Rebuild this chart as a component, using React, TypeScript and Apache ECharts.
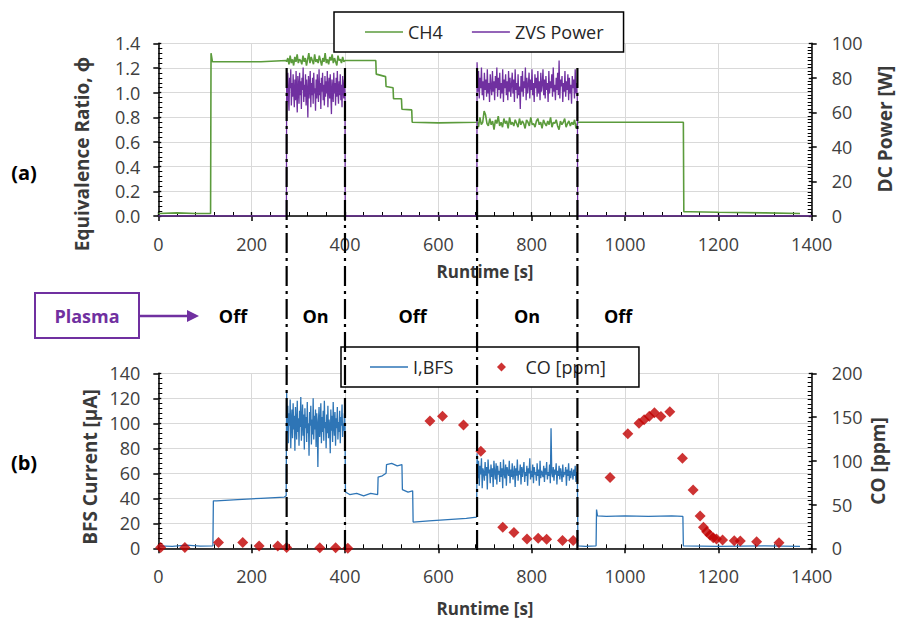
import React, { useEffect, useRef } from 'react';
import * as echarts from 'echarts';

const FONT = "'Open Sans', 'Noto Sans', 'DejaVu Sans', sans-serif";

// ---- axes ----
const runtimeMin = 0;
const runtimeMax = 1400;
const runtimeStep = 200;
const phiMax = 1.4;
const phiStep = 0.2;
const powerMax = 100;
const powerStep = 20;
const currentMax = 140;
const currentStep = 20;
const coMax = 200;
const coStep = 50;

// ---- (a) CH4 equivalence ratio ----
const ch4PreTimes = [0, 40, 80, 112, 113, 116, 160, 220, 274];
const ch4PreValues = [0.02, 0.025, 0.02, 0.02, 1.32, 1.25, 1.25, 1.25, 1.26];
const ch4On1Span = [275, 400];
const ch4On1Values = [
  1.25, 1.28, 1.23, 1.30, 1.24, 1.27, 1.22, 1.29, 1.25, 1.31,
  1.24, 1.27, 1.26, 1.23, 1.30, 1.25, 1.28, 1.22, 1.27, 1.32,
  1.24, 1.29, 1.26, 1.23, 1.31, 1.25, 1.27, 1.24, 1.30, 1.26,
  1.22, 1.28, 1.25, 1.32, 1.24, 1.27, 1.23, 1.29, 1.26, 1.31,
  1.24, 1.28, 1.25, 1.22, 1.30, 1.26, 1.27, 1.24, 1.29, 1.25, 1.26,
];
const ch4MidTimes = [401, 466, 467, 487, 488, 503, 504, 521, 522, 543, 544, 600, 682];
const ch4MidValues = [1.26, 1.26, 1.15, 1.13, 1.05, 1.04, 0.95, 0.95, 0.865, 0.86, 0.76, 0.755, 0.76];
const ch4On2Span = [683, 898];
const ch4On2Values = [
  0.78, 0.72, 0.80, 0.74, 0.76, 0.85, 0.82, 0.75, 0.73, 0.79,
  0.74, 0.77, 0.70, 0.78, 0.75, 0.81, 0.73, 0.76, 0.72, 0.79,
  0.75, 0.77, 0.71, 0.80, 0.74, 0.76, 0.73, 0.78, 0.75, 0.72,
  0.79, 0.74, 0.77, 0.75, 0.71, 0.78, 0.76, 0.73, 0.80, 0.74,
  0.75, 0.72, 0.77, 0.79, 0.74, 0.76, 0.71, 0.78, 0.75, 0.73,
  0.77, 0.74, 0.80, 0.72, 0.76, 0.75, 0.78, 0.73, 0.70, 0.77,
  0.74, 0.76, 0.79, 0.72, 0.75, 0.77, 0.73, 0.76, 0.74, 0.78,
  0.71, 0.75,
];
const ch4PostTimes = [899, 1000, 1125, 1126, 1140, 1200, 1300, 1375];
const ch4PostValues = [0.76, 0.76, 0.76, 0.035, 0.035, 0.03, 0.025, 0.02];

// ---- (a) ZVS power [W] ----
const zvsOffTimes = [0, 274.5, 400.5, 682.5, 898.5, 1400];
const zvsOffValue = 0;
const zvsOn1Span = [275, 400];
const zvsOn1Values = [
  78, 66, 83, 70, 61, 80, 74, 85, 64, 77,
  69, 82, 72, 63, 79, 67, 84, 71, 60, 81,
  75, 65, 83, 70, 78, 62, 80, 73, 86, 66,
  76, 69, 82, 64, 79, 72, 57, 81, 68, 75,
  84, 63, 77, 70, 80, 65, 83, 71, 74, 61,
  79, 68, 82, 73, 66, 85, 70, 77, 62, 80,
  72, 83, 67, 76, 64, 81, 69, 78, 71, 84,
  63, 75, 80, 68, 82, 70, 59, 79, 73, 66,
  83, 71, 77, 64, 80, 69, 84, 72, 65, 78,
  70, 82, 67, 76, 63, 81, 74, 68, 79, 72,
];
const zvsOn2Span = [683, 898];
const zvsOn2Values = [
  89, 72, 84, 68, 80, 74, 86, 70, 78, 67,
  83, 73, 79, 69, 85, 71, 77, 66, 82, 75,
  70, 84, 72, 78, 67, 81, 74, 86, 69, 80,
  73, 83, 68, 77, 71, 85, 66, 79, 74, 82,
  70, 78, 67, 84, 72, 80, 69, 76, 83, 71,
  79, 66, 85, 73, 77, 68, 82, 70, 75, 62,
  81, 72, 84, 69, 78, 74, 86, 67, 80, 71,
  76, 83, 68, 79, 73, 85, 70, 77, 66, 82,
  74, 80, 69, 84, 71, 78, 67, 83, 72, 76,
  85, 70, 79, 68, 81, 73, 77, 66, 84, 71,
  78, 74, 82, 69, 86, 72, 76, 67, 80, 73,
  83, 70, 90, 68, 79, 75, 81, 66, 77, 72,
  84, 69, 78, 73, 82, 67, 80, 71, 76, 65,
  81, 74, 79, 68, 85, 71, 77, 66,
];

// ---- (b) BFS current [uA] ----
const ibfsPreTimes = [0, 30, 60, 90, 117, 118, 125, 170, 220, 270, 274];
const ibfsPreValues = [2, 1.5, 2.5, 1.8, 2, 38, 38, 39, 40, 41, 42];
const ibfsOn1Span = [275, 400];
const ibfsOn1Values = [
  125, 92, 114, 84, 108, 98, 119, 80, 102, 111,
  88, 116, 95, 106, 78, 113, 99, 87, 118, 93,
  104, 82, 110, 97, 121, 86, 101, 115, 90, 107,
  79, 112, 96, 105, 85, 117, 92, 100, 74, 109,
  98, 114, 83, 103, 91, 120, 87, 106, 95, 111,
  81, 108, 99, 65, 102, 113, 89, 97, 116, 84,
  105, 93, 110, 86, 118, 96, 101, 80, 107, 92,
  114, 88, 103, 97, 76, 111, 94, 106, 85, 117,
  99, 90, 109, 82, 104, 96, 113, 87, 101, 93,
  110, 84, 105, 98, 115, 89, 100, 94, 108, 97,
];
const ibfsMidTimes = [401, 410, 425, 440, 455, 470, 471, 480, 488, 489, 500, 512, 522, 523, 535, 545, 546, 580, 620, 660, 682];
const ibfsMidValues = [45, 43, 44, 42, 44, 43, 57, 58, 60, 67, 68, 66, 67, 47, 45, 46, 21, 22, 23, 24, 25];
const ibfsOn2Span = [683, 898];
const ibfsOn2Values = [
  76, 56, 70, 50, 66, 59, 72, 48, 64, 61,
  54, 69, 58, 65, 47, 71, 60, 63, 52, 67,
  57, 64, 49, 70, 61, 55, 68, 51, 66, 59,
  62, 53, 69, 57, 64, 48, 71, 60, 56, 67,
  50, 65, 61, 58, 70, 52, 63, 57, 68, 55,
  60, 66, 49, 64, 58, 71, 54, 62, 59, 67,
  51, 65, 57, 63, 69, 53, 61, 58, 66, 50,
  64, 60, 72, 55, 62, 57, 67, 52, 65, 59,
  61, 54, 68, 58, 63, 50, 70, 56, 62, 60,
  57, 66, 53, 64, 59, 69, 55, 61, 58, 67,
  52, 96, 60, 57, 65, 54, 63, 59, 68, 51,
  62, 58, 66, 55, 64, 60, 53, 67, 57, 61,
  59, 65, 50, 63, 58, 68, 54, 62, 56, 64,
  60, 55, 63, 58, 66, 53, 61, 57,
];
const ibfsPostTimes = [899, 915, 938, 939, 941, 960, 1000, 1050, 1100, 1124, 1125, 1200, 1300, 1375];
const ibfsPostValues = [2, 1.5, 2, 31, 26, 25.5, 26, 25.5, 26, 25.5, 2, 1.5, 2, 1.5];

// ---- (b) CO [ppm] ----
const coTimes = [5, 57, 129, 181, 216, 256, 275, 346, 380, 406, 582, 609, 654, 691, 738, 762, 790, 814, 832, 866, 889, 968, 1006, 1030, 1041, 1052, 1063, 1077, 1096, 1123, 1146, 1161, 1168, 1175, 1182, 1189, 1196, 1209, 1234, 1247, 1282, 1330];
const coValues = [1, 1, 6.5, 6.5, 2.7, 2.7, 1, 0.5, 0.5, 0, 145.5, 151, 141, 111, 24, 18, 10.7, 11.4, 10.3, 8.8, 8.8, 80.8, 131, 143, 147, 151, 155, 150.5, 156, 103, 66.6, 37, 24, 19, 15.2, 12.1, 10.6, 9.5, 8.7, 8.3, 7.5, 6.4];

// ---- plasma annotation ----
const plasmaSwitchTimes = [275, 400, 683, 898];
const plasmaLabels = ['Off', 'On', 'Off', 'On', 'Off'];
const plasmaLabelTimes = [160, 337, 545, 790, 985];

const zip = (t: number[], v: number[]) => t.map((x, i) => [x, v[i]]);
const spread = (span: number[], v: number[]) =>
  v.map((y, i) => [span[0] + ((span[1] - span[0]) * i) / (v.length - 1), y]);

const ch4Data = [
  ...zip(ch4PreTimes, ch4PreValues),
  ...spread(ch4On1Span, ch4On1Values),
  ...zip(ch4MidTimes, ch4MidValues),
  ...spread(ch4On2Span, ch4On2Values),
  ...zip(ch4PostTimes, ch4PostValues),
];
const zvsData = [
  [zvsOffTimes[0], zvsOffValue],
  [zvsOffTimes[1], zvsOffValue],
  ...spread(zvsOn1Span, zvsOn1Values),
  [zvsOffTimes[2], zvsOffValue],
  [zvsOffTimes[3], zvsOffValue],
  ...spread(zvsOn2Span, zvsOn2Values),
  [zvsOffTimes[4], zvsOffValue],
  [zvsOffTimes[5], zvsOffValue],
];
const ibfsData = [
  ...zip(ibfsPreTimes, ibfsPreValues),
  ...spread(ibfsOn1Span, ibfsOn1Values),
  ...zip(ibfsMidTimes, ibfsMidValues),
  ...spread(ibfsOn2Span, ibfsOn2Values),
  ...zip(ibfsPostTimes, ibfsPostValues),
];
const coData = zip(coTimes, coValues);

const LABEL_COLOR = '#404040';
const TITLE_COLOR = '#3a3a3a';
const LINE_ICON = 'path://M0 0H38V1.6H0Z';
const DIAMOND_ICON = 'path://M0 5L0.01 5ZM38 5L37.99 5ZM19 0.5L23.5 5L19 9.5L14.5 5Z';

function xMain(gridIndex: number) {
  return {
    type: 'value', gridIndex, position: 'bottom',
    min: runtimeMin, max: runtimeMax, interval: runtimeStep,
    axisLine: { show: true, onZero: false, lineStyle: { color: '#000', width: 1.5 } },
    axisTick: { show: true, inside: false, length: 5, lineStyle: { color: '#000', width: 1.5 } },
    minorTick: { show: false },
    axisLabel: { margin: 19, fontSize: 18, color: LABEL_COLOR, fontFamily: FONT, formatter: (v: number) => String(v) },
    splitLine: { show: true, lineStyle: { color: '#d9d9d9', width: 1 } },
  };
}
function xOverlay(gridIndex: number) {
  return {
    type: 'value', gridIndex, position: 'bottom',
    min: runtimeMin, max: runtimeMax, interval: runtimeStep,
    axisLine: { show: false, onZero: false },
    axisTick: { show: true, inside: true, length: 4, lineStyle: { color: '#000', width: 1.3 } },
    minorTick: { show: true, splitNumber: 5, length: 4, lineStyle: { color: '#000', width: 1 } },
    axisLabel: { show: false },
    splitLine: { show: false },
  };
}
function yMain(gridIndex: number, position: string, max: number, interval: number, split: boolean, fmt?: (v: number) => string) {
  return {
    type: 'value', gridIndex, position, min: 0, max, interval,
    axisLine: { show: true, onZero: false, lineStyle: { color: '#000', width: 1.5 } },
    axisTick: { show: true, inside: false, length: 5, lineStyle: { color: '#000', width: 1.5 } },
    minorTick: { show: false },
    axisLabel: { margin: position === 'left' ? 18 : 20, fontSize: 18, color: LABEL_COLOR, fontFamily: FONT, formatter: fmt || ((v: number) => String(v)) },
    splitLine: { show: split, lineStyle: { color: '#d9d9d9', width: 1 } },
  };
}
function yOverlay(gridIndex: number, position: string, max: number, interval: number, minorSplit: number) {
  return {
    type: 'value', gridIndex, position, min: 0, max, interval,
    axisLine: { show: false, onZero: false },
    axisTick: { show: true, inside: true, length: 3, lineStyle: { color: '#000', width: 1.3 } },
    minorTick: { show: true, splitNumber: minorSplit, length: 4, lineStyle: { color: '#000', width: 1 } },
    axisLabel: { show: false },
    splitLine: { show: false },
  };
}

export default function App() {
  const ref = useRef<HTMLDivElement>(null);
  useEffect(() => {
    if (!ref.current) return;
    const chart = echarts.init(ref.current, null, { renderer: 'svg' });
    const legendCommon = {
      orient: 'horizontal', itemWidth: 38, itemHeight: 10, itemGap: 29,
      borderColor: '#000', borderWidth: 1.5, backgroundColor: '#fff',
      textStyle: { fontSize: 18, color: '#262626', fontFamily: FONT },
      selectedMode: false, z: 10,
    };
    chart.setOption({
      animation: false,
      backgroundColor: '#fff',
      textStyle: { fontFamily: FONT },
      grid: [
        { left: 158.3, top: 43.3, width: 653.4, height: 172.7, containLabel: false },
        { left: 158.3, top: 373.3, width: 653.4, height: 175, containLabel: false },
      ],
      legend: [
        {
          ...legendCommon,
          data: [{ name: 'CH4', icon: LINE_ICON }, { name: 'ZVS Power', icon: LINE_ICON }],
          left: 334, top: 12, padding: [11, 20, 11, 31],
        },
        {
          ...legendCommon,
          data: [{ name: 'I,BFS', icon: LINE_ICON }, { name: 'CO [ppm]', icon: DIAMOND_ICON }],
          left: 341, top: 347, padding: [11, 33, 11, 29],
        },
      ],
      xAxis: [xMain(0), xOverlay(0), xMain(1), xOverlay(1)],
      yAxis: [
        yMain(0, 'left', phiMax, phiStep, true, (v: number) => v.toFixed(1)),
        yOverlay(0, 'left', phiMax, phiStep, 5),
        yMain(0, 'right', powerMax, powerStep, false),
        yOverlay(0, 'right', powerMax, powerStep, 10),
        yMain(1, 'left', currentMax, currentStep, true),
        yOverlay(1, 'left', currentMax, currentStep, 5),
        yMain(1, 'right', coMax, coStep, false),
        yOverlay(1, 'right', coMax, coStep, 10),
      ],
      series: [
        {
          name: 'CH4', type: 'line', xAxisIndex: 0, yAxisIndex: 0, data: ch4Data,
          symbol: 'none', lineStyle: { color: '#5B9B3C', width: 1.6 }, itemStyle: { color: '#5B9B3C' }, z: 3,
        },
        {
          name: 'ZVS Power', type: 'line', xAxisIndex: 0, yAxisIndex: 2, data: zvsData,
          symbol: 'none', lineStyle: { color: '#7030A0', width: 1.3 }, itemStyle: { color: '#7030A0' }, z: 3,
        },
        {
          name: 'I,BFS', type: 'line', xAxisIndex: 2, yAxisIndex: 4, data: ibfsData,
          symbol: 'none', lineStyle: { color: '#2E75B6', width: 1.3 }, itemStyle: { color: '#2E75B6' }, z: 3,
        },
        {
          name: 'CO [ppm]', type: 'scatter', xAxisIndex: 2, yAxisIndex: 6, data: coData,
          symbol: 'diamond', symbolSize: 11, itemStyle: { color: '#C00000' }, z: 4,
        },
      ],
    });

    const px = (t: number) => chart.convertToPixel({ xAxisIndex: 0 }, t) as number;
    const yTop = chart.convertToPixel({ yAxisIndex: 0 }, 1.2) as number;
    const yBot = (chart.convertToPixel({ yAxisIndex: 4 }, 0) as number) + 6;
    const purple = '#7030A0';
    const titleText = (text: string, x: number, y: number, rot: number, size = 17) => ({
      type: 'text', x, y, rotation: rot, silent: true, z: 50,
      style: { text, fontSize: size, fontWeight: 'bold', fontFamily: FONT, fill: TITLE_COLOR, align: 'center', verticalAlign: 'middle' },
    });
    const graphic: any[] = [
      ...plasmaSwitchTimes.map((t) => ({
        type: 'line', silent: true, z: 100,
        shape: { x1: px(t), y1: yTop, x2: px(t), y2: yBot },
        style: { stroke: '#000', lineWidth: 2.2, lineDash: [20, 5, 3, 5] },
      })),
      ...plasmaLabels.map((s, i) => ({
        type: 'text', x: px(plasmaLabelTimes[i]), y: 316, silent: true, z: 50,
        style: { text: s, fontSize: 18, fontWeight: 'bold', fontFamily: FONT, fill: '#000', align: 'center', verticalAlign: 'middle' },
      })),
      {
        type: 'rect', silent: true, z: 50, shape: { x: 35, y: 293, width: 104, height: 45 },
        style: { fill: '#fff', stroke: purple, lineWidth: 2 },
      },
      {
        type: 'text', x: 87, y: 315.5, silent: true, z: 51,
        style: { text: 'Plasma', fontSize: 18, fontWeight: 'bold', fontFamily: FONT, fill: purple, align: 'center', verticalAlign: 'middle' },
      },
      {
        type: 'line', silent: true, z: 50, shape: { x1: 139, y1: 316, x2: 190, y2: 316 },
        style: { stroke: purple, lineWidth: 2.5 },
      },
      {
        type: 'polygon', silent: true, z: 50, shape: { points: [[187, 310], [199, 316], [187, 322]] },
        style: { fill: purple },
      },
      titleText('Equivalence Ratio, \u03D5', 82, 154, Math.PI / 2, 19),
      titleText('DC Power [W]', 885, 129, Math.PI / 2, 19),
      titleText('Runtime [s]', 485, 271, 0),
      titleText('BFS Current [\u00B5A]', 90, 467, Math.PI / 2, 19),
      titleText('CO [ppm]', 878, 461, Math.PI / 2, 19),
      titleText('Runtime [s]', 485, 608, 0),
      {
        type: 'text', x: 24, y: 172, silent: true, z: 50,
        style: { text: '(a)', fontSize: 20, fontWeight: 'bold', fontFamily: FONT, fill: '#000', align: 'center', verticalAlign: 'middle' },
      },
      {
        type: 'text', x: 24, y: 462, silent: true, z: 50,
        style: { text: '(b)', fontSize: 20, fontWeight: 'bold', fontFamily: FONT, fill: '#000', align: 'center', verticalAlign: 'middle' },
      },
    ];
    chart.setOption({ graphic });
    return () => chart.dispose();
  }, []);
  return <div ref={ref} style={{ position: 'absolute', left: 0, top: 0, width: 899, height: 622 }} />;
}
